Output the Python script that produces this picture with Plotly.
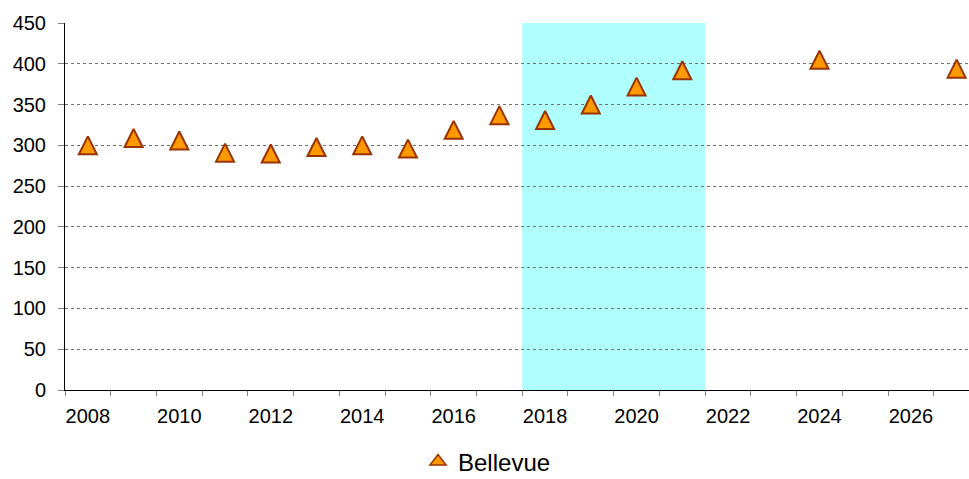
import plotly.graph_objects as go

# ---- data ----
years = [2008, 2009, 2010, 2011, 2012, 2013, 2014, 2015, 2016, 2017,
         2018, 2019, 2020, 2021, 2024, 2027]
values = [300, 309, 306, 291, 290, 298, 300, 296, 319, 337,
          331, 350, 372, 392, 405, 394]
series_name = "Bellevue"
tick_years = [2008, 2010, 2012, 2014, 2016, 2018, 2020, 2022, 2024, 2026]
tick_labels = [str(y) for y in tick_years]
shade_years = [2018, 2021]
y_ticks = [0, 50, 100, 150, 200, 250, 300, 350, 400, 450]

FONT = "Liberation Sans, Arial, sans-serif"
msize = 18
FILL = "#FF9900"
EDGE = "#993300"

fig = go.Figure()
fig.add_trace(go.Scatter(
    x=years, y=values, mode="markers", name=series_name,
    marker=dict(symbol="arrow-down", angle=180, standoff=msize / 2,
                size=msize, color=FILL,
                line=dict(color=EDGE, width=2)),
    showlegend=False, legendgroup="s",
))
# legend entry for the same series
fig.add_trace(go.Scatter(
    x=[None], y=[None], mode="markers", name=series_name,
    marker=dict(symbol="triangle-up", size=14, color=FILL,
                line=dict(color=EDGE, width=1.5)),
    showlegend=True, legendgroup="s",
))

fig.add_shape(type="rect", xref="x", yref="y",
              x0=shade_years[0] - 0.5, x1=shade_years[1] + 0.5,
              y0=y_ticks[0], y1=y_ticks[-1],
              fillcolor="#B0FFFF", line=dict(width=0), layer="below")

fig.update_layout(
    width=969, height=479,
    margin=dict(l=65, r=0, t=23, b=89, autoexpand=False),
    paper_bgcolor="white", plot_bgcolor="white",
    font=dict(family=FONT, size=20, color="black"),
    showlegend=True,
    legend=dict(orientation="h", x=0.3905, xanchor="left",
                y=-0.196, yanchor="middle",
                font=dict(size=24, family=FONT, color="black"),
                bgcolor="rgba(0,0,0,0)"),
    xaxis=dict(
        range=[2007.5, 2027.27],
        tickmode="array", tickvals=tick_years, ticktext=tick_labels,
        ticks="", showgrid=False, zeroline=False,
        showline=True, linecolor="black", linewidth=1,
        tickfont=dict(size=20, family=FONT, color="black"),
        ticklabelstandoff=8,
        minor=dict(tick0=2007.5, dtick=1, ticks="outside", ticklen=5,
                   tickcolor="#808080", tickwidth=1, showgrid=False),
    ),
    yaxis=dict(
        range=[0, 450],
        tickmode="array", tickvals=y_ticks,
        ticks="outside", ticklen=6, tickcolor="#808080", tickwidth=1,
        showgrid=True, gridcolor="#707070", griddash="dot", gridwidth=1,
        zeroline=False, showline=True, linecolor="black", linewidth=1,
        tickfont=dict(size=20, family=FONT, color="black"),
        ticklabelstandoff=8,
    ),
)

fig.write_html("out.html")
